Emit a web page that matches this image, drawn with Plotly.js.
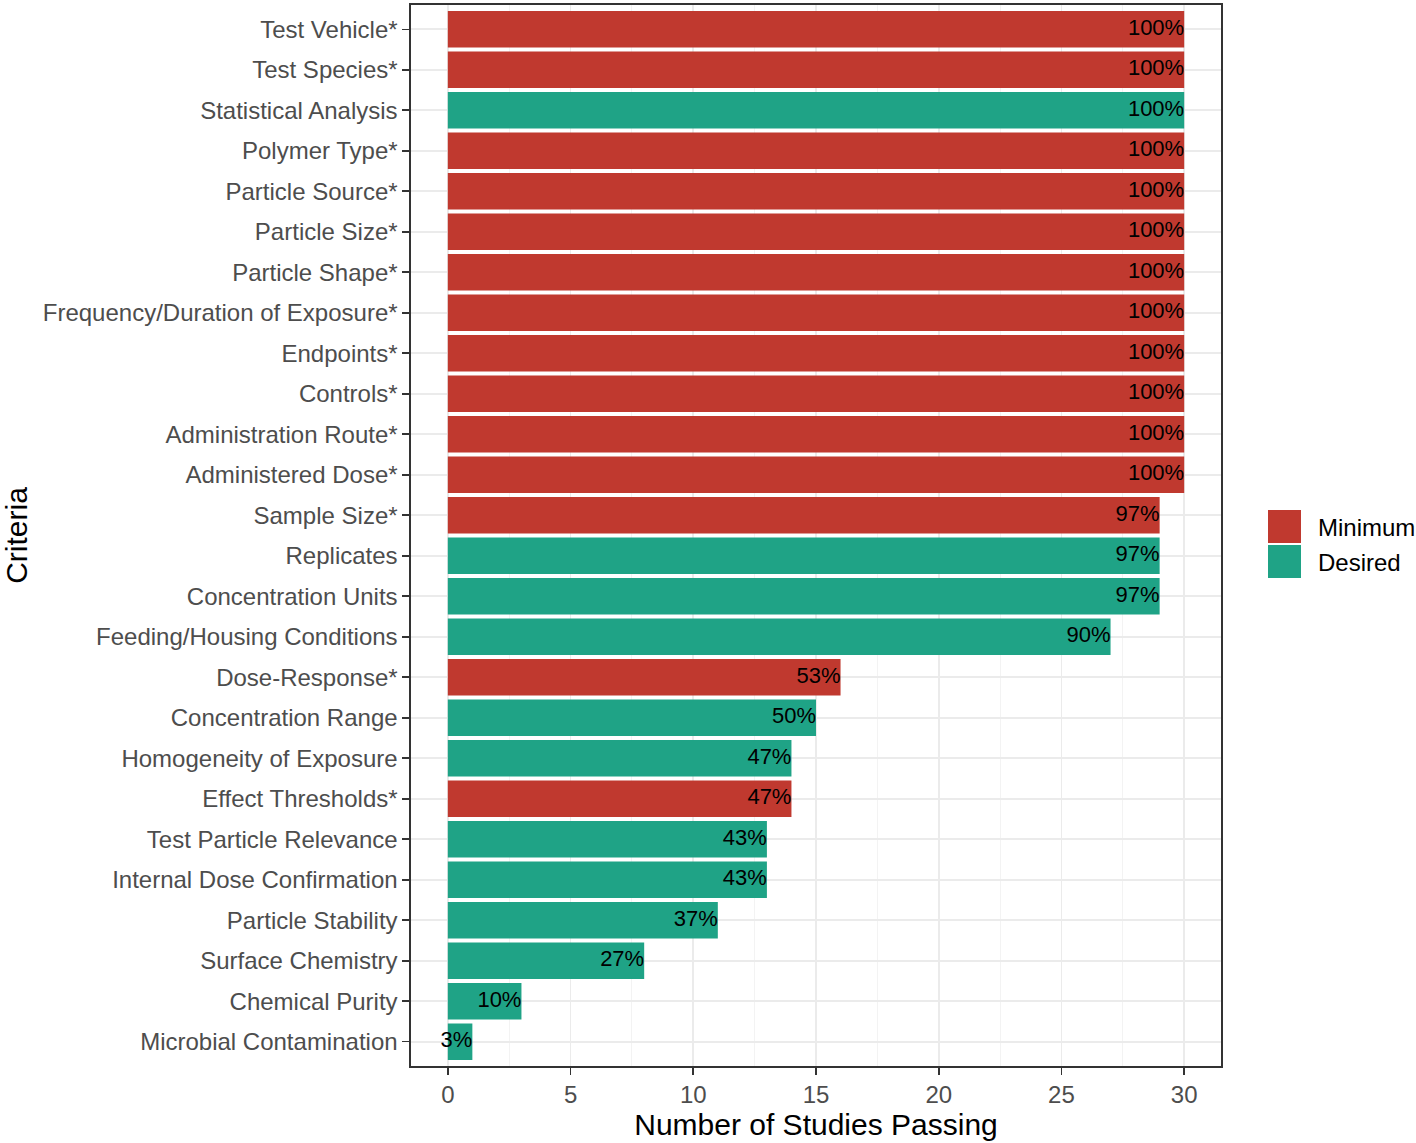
<!DOCTYPE html>
<html><head><meta charset="utf-8">
<script src="https://cdn.plot.ly/plotly-3.0.1.min.js"></script>
<style>html,body{margin:0;padding:0;background:#fff;}#chart{width:1416px;height:1143px;}</style>
</head><body><div id="chart"></div>
<script>
// Criteria, top to bottom
const criteria = ["Test Vehicle*","Test Species*","Statistical Analysis","Polymer Type*","Particle Source*","Particle Size*","Particle Shape*","Frequency/Duration of Exposure*","Endpoints*","Controls*","Administration Route*","Administered Dose*","Sample Size*","Replicates","Concentration Units","Feeding/Housing Conditions","Dose-Response*","Concentration Range","Homogeneity of Exposure","Effect Thresholds*","Test Particle Relevance","Internal Dose Confirmation","Particle Stability","Surface Chemistry","Chemical Purity","Microbial Contamination"];
const studiesPassing = [30,30,30,30,30,30,30,30,30,30,30,30,29,29,29,27,16,15,14,14,13,13,11,8,3,1];
const criteriaType = ["Minimum","Minimum","Desired","Minimum","Minimum","Minimum","Minimum","Minimum","Minimum","Minimum","Minimum","Minimum","Minimum","Desired","Desired","Desired","Minimum","Desired","Desired","Minimum","Desired","Desired","Desired","Desired","Desired","Desired"];
const percentLabels = ["100%","100%","100%","100%","100%","100%","100%","100%","100%","100%","100%","100%","97%","97%","97%","90%","53%","50%","47%","47%","43%","43%","37%","27%","10%","3%"];
const groups = ["Minimum","Desired"];
const colors = {"Minimum":"#C0392F","Desired":"#1FA386"};

const FONT = "Liberation Sans, Arial, sans-serif";
const traces = groups.map(g => {
  const ys=[], xs=[];
  criteria.forEach((c,i)=>{ if(criteriaType[i]===g){ ys.push(c); xs.push(studiesPassing[i]); }});
  return {type:'bar', orientation:'h', name:g, x:xs, y:ys, width:0.9,
    marker:{color:colors[g], line:{width:0}}, showlegend:false, hoverinfo:'x+y'};
});
traces.push({type:'scatter', mode:'text', x:studiesPassing, y:criteria, text:percentLabels,
  textposition:'middle left', textfont:{family:FONT, size:22, color:'#000'}, showlegend:false, hoverinfo:'skip', cliponaxis:false});

const shapes = [], annotations = [];
groups.forEach((g,k)=>{
  const y0 = 510 + k*35;
  shapes.push({type:'rect', xref:'paper', yref:'paper',
    x0:(1268-411)/810, x1:(1301-411)/810,
    y0:1-(y0+33-5)/1061, y1:1-(y0-5)/1061,
    fillcolor:colors[g], line:{width:0}});
  annotations.push({xref:'paper', yref:'paper', x:(1316-411)/810, y:1-(y0+17-5)/1061,
    xanchor:'left', yanchor:'middle', text:g, showarrow:false,
    font:{family:FONT, size:24, color:'#000'}});
});

const layout = {
  width:1416, height:1143,
  margin:{l:411, r:195, t:5, b:77},
  paper_bgcolor:'#fff', plot_bgcolor:'#fff',
  barmode:'overlay',
  font:{family:FONT},
  xaxis:{range:[-1.5,31.5], tickvals:[0,5,10,15,20,25,30], ticktext:["0","5","10","15","20","25","30"],
    showgrid:true, gridcolor:'#EBEBEB', gridwidth:1.8, zeroline:false,
    minor:{tickvals:[2.5,7.5,12.5,17.5,22.5,27.5], showgrid:true, gridcolor:'#F2F2F2', gridwidth:0.9, ticks:''},
    ticks:'outside', ticklen:7, tickwidth:1.6, tickcolor:'#333',
    tickfont:{family:FONT, size:24, color:'#4D4D4D'},
    showline:true, linecolor:'#333', linewidth:1.6, mirror:true,
    title:{text:'Number of Studies Passing', font:{family:FONT, size:30, color:'#000'}, standoff:4}},
  yaxis:{type:'category', categoryorder:'array', categoryarray:criteria, range:[25.6,-0.6], autorange:false,
    showgrid:true, gridcolor:'#EBEBEB', gridwidth:1.8, zeroline:false,
    ticks:'outside', ticklen:7, tickwidth:1.6, tickcolor:'#333',
    tickfont:{family:FONT, size:24, color:'#4D4D4D'},
    showline:true, linecolor:'#333', linewidth:1.6, mirror:true,
    title:{text:'Criteria', font:{family:FONT, size:30, color:'#000'}, standoff:12}},
  shapes:shapes, annotations:annotations
};
Plotly.newPlot('chart', traces, layout, {displayModeBar:false, staticPlot:true});
</script></body></html>
